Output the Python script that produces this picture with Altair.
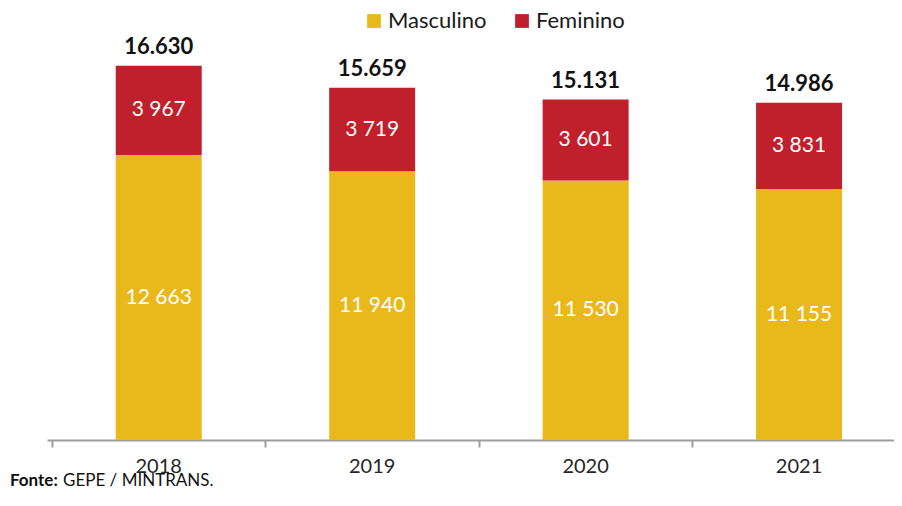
import altair as alt
import pandas as pd

years = ["2018", "2019", "2020", "2021"]
masculino = [12663, 11940, 11530, 11155]
feminino = [3967, 3719, 3601, 3831]
series = ["Masculino", "Feminino"]
colors = ["#E9B91B", "#C0202B"]

FONT = "Lato"
PLOT_W = 847
STEP = 216  # pixel width of one year slot


def fmt_space(v):
    return f"{v:,}".replace(",", " ")


def fmt_dot(v):
    return f"{v:,}".replace(",", ".")


rows = []
for i, (y, m, f) in enumerate(zip(years, masculino, feminino)):
    rows.append({"ano": y, "pos": i + 0.5, "sexo": "Masculino", "valor": m,
                 "ord": 0, "mid": m / 2, "lab": fmt_space(m)})
    rows.append({"ano": y, "pos": i + 0.5, "sexo": "Feminino", "valor": f,
                 "ord": 1, "mid": m + f / 2, "lab": fmt_space(f)})
df = pd.DataFrame(rows)

tot = pd.DataFrame({"ano": years, "pos": [i + 0.5 for i in range(len(years))],
                    "total": [m + f for m, f in zip(masculino, feminino)]})
tot["lab"] = tot["total"].apply(fmt_dot)

xscale = alt.Scale(domain=[0, PLOT_W / STEP], nice=False, zero=False)
xaxis = alt.Axis(values=list(range(len(years))), labels=False, grid=False,
                 title=None, domainColor="#9E9E9E", domainWidth=2,
                 tickColor="#9E9E9E", tickWidth=2, tickSize=7)
yscale = alt.Scale(domain=[0, 18000])

bars = alt.Chart(df).mark_bar(size=86).encode(
    x=alt.X("pos:Q", scale=xscale, axis=xaxis),
    y=alt.Y("valor:Q", stack="zero", scale=yscale, axis=None),
    color=alt.Color("sexo:N", scale=alt.Scale(domain=series, range=colors),
                    legend=alt.Legend(title=None, orient="none", legendX=316,
                                      legendY=-25, direction="horizontal",
                                      symbolType="square", symbolSize=190,
                                      symbolStrokeWidth=0,
                                      labelFontSize=22, labelFont=FONT,
                                      labelColor="#1a1a1a", columnPadding=24,
                                      labelOffset=3)),
    order=alt.Order("ord:Q"),
)

seglab = alt.Chart(df).mark_text(color="white", fontSize=21, font=FONT).encode(
    x=alt.X("pos:Q", scale=xscale),
    y=alt.Y("mid:Q", scale=yscale),
    text="lab:N",
)

totlab = alt.Chart(tot).mark_text(color="#111111", fontSize=22, font=FONT,
                                  fontWeight="bold", dy=-19).encode(
    x=alt.X("pos:Q", scale=xscale),
    y=alt.Y("total:Q", scale=yscale),
    text="lab:N",
)

yearlab = alt.Chart(tot).mark_text(color="#262626", fontSize=20, font=FONT,
                                   baseline="middle").encode(
    x=alt.X("pos:Q", scale=xscale),
    y=alt.value(432),
    text="ano:N",
)

src1 = alt.Chart(pd.DataFrame({"t": ["Fonte:"]})).mark_text(
    align="left", baseline="alphabetic", fontSize=17, font=FONT,
    fontWeight="bold", color="#111111").encode(
    x=alt.value(-37), y=alt.value(451), text="t:N")
src2 = alt.Chart(pd.DataFrame({"t": ["GEPE / MINTRANS."]})).mark_text(
    align="left", baseline="alphabetic", fontSize=17, font=FONT,
    color="#111111").encode(
    x=alt.value(16), y=alt.value(451), text="t:N")

chart = alt.layer(bars, seglab, totlab, yearlab, src1, src2).properties(
    width=PLOT_W, height=405,
    autosize=alt.AutoSizeParams(type="none"),
    padding={"left": 39, "top": 27, "right": 0, "bottom": 50},
).configure_view(stroke=None)

chart.save("out.html", embed_options={"renderer": "svg", "actions": False})
